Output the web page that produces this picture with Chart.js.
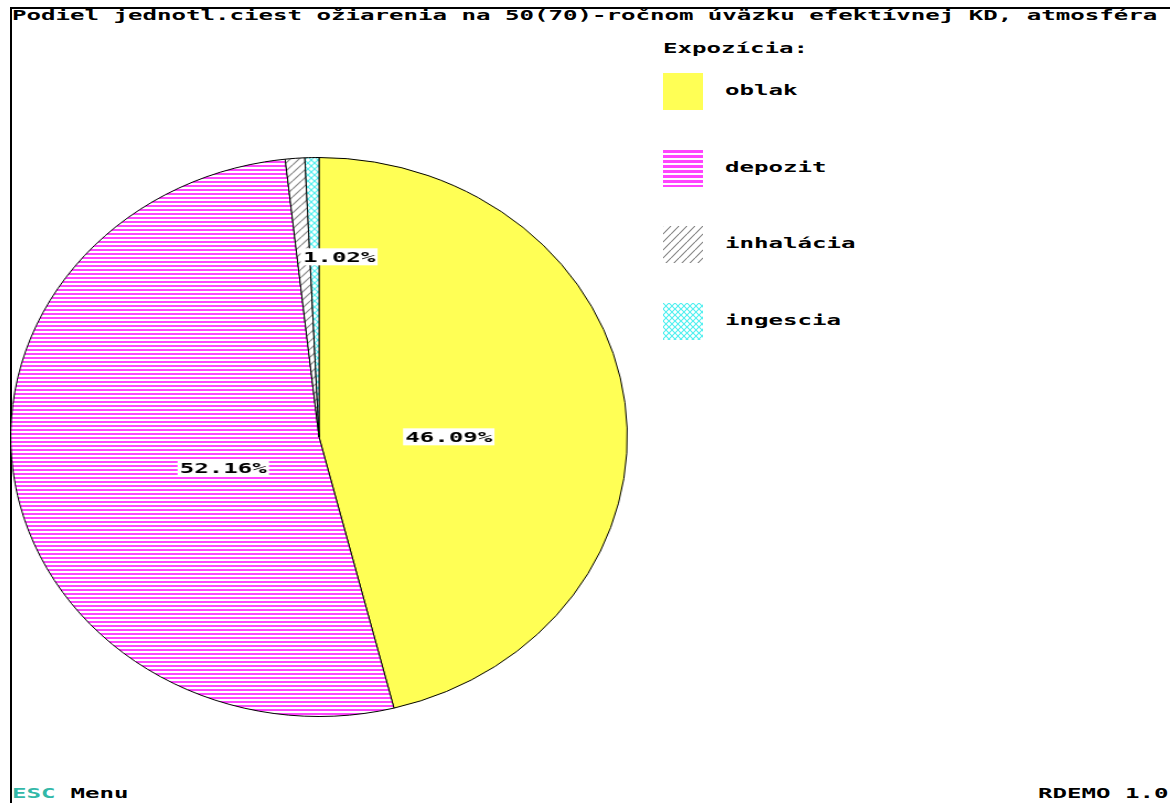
<!DOCTYPE html>
<html>
<head>
<meta charset="utf-8">
<script src="https://cdn.jsdelivr.net/npm/chart.js@4/dist/chart.umd.min.js"></script>
<style>
  html, body { margin: 0; padding: 0; width: 1170px; height: 803px; overflow: hidden; background: #fff; }
  .frame { position: absolute; left: 10px; top: 7px; width: 1200px; height: 820px;
           border-top: 2px solid #000; border-left: 2px solid #000; }
  .t { position: absolute; font-family: "DejaVu Sans Mono", monospace; font-weight: bold;
       font-size: 14px; line-height: 14px; white-space: pre; color: #000;
       transform-origin: 0 0; transform: scaleX(1.72); }
  #pieBox { position: absolute; left: 39px; top: 157px; width: 560px; height: 560px;
            transform: scaleX(1.103); transform-origin: 50% 50%; }
  .sw { position: absolute; left: 663px; }
</style>
</head>
<body>
<div class="frame"></div>
<div id="pieBox"><canvas id="pie" width="560" height="560"></canvas></div>
<div id="texts"></div>
<script>
// Exposure pathways and their share of the committed effective dose (%)
const titleText = 'Podiel jednotl.ciest ožiarenia na 50(70)-ročnom úväzku efektívnej KD, atmosféra';
const legendTitle = 'Expozícia:';
const categories = ['oblak', 'depozit', 'inhalácia', 'ingescia'];
const shares = [46.09, 52.16, 1.02, 0.73];
const footerLeftKey = 'ESC';
const footerLeftText = ' Menu';
const footerRight = 'RDEMO 1.0';

// fill styles: solid yellow, magenta rows, grey diagonal hatch, cyan cross hatch
function makeFill(i, ctx, rowStep) {
  const tile = document.createElement('canvas');
  const g = tile.getContext('2d');
  if (i === 0) return '#ffff55';
  if (i === 1) {
    const step = rowStep || 4;
    tile.width = 4; tile.height = step;
    g.fillStyle = '#fff'; g.fillRect(0, 0, 4, step);
    g.fillStyle = '#ff44ff'; g.fillRect(0, 0, 4, step - 2);
  } else if (i === 2) {
    tile.width = 8; tile.height = 8;
    g.fillStyle = '#fff'; g.fillRect(0, 0, 8, 8);
    g.strokeStyle = '#8a8a8a'; g.lineWidth = 1.2;
    for (const o of [-8, 0, 8]) {
      g.beginPath(); g.moveTo(o, 8); g.lineTo(o + 8, 0); g.stroke();
    }
  } else {
    tile.width = 6; tile.height = 6;
    g.fillStyle = '#fff'; g.fillRect(0, 0, 6, 6);
    g.strokeStyle = '#55f0f0'; g.lineWidth = 1.2;
    for (const o of [-6, 0, 6]) {
      g.beginPath(); g.moveTo(o, 6); g.lineTo(o + 6, 0); g.stroke();
      g.beginPath(); g.moveTo(o, 0); g.lineTo(o + 6, 6); g.stroke();
    }
  }
  return ctx.createPattern(tile, 'repeat');
}

const texts = document.getElementById('texts');
function addText(str, left, baseline, color) {
  const d = document.createElement('div');
  d.className = 't';
  d.textContent = str;
  d.style.left = left + 'px';
  d.style.top = (baseline - 12) + 'px';
  if (color) d.style.color = color;
  texts.appendChild(d);
  return d;
}

addText(titleText, 12, 20);
addText(legendTitle, 663, 53);

categories.forEach((name, i) => {
  const top = Math.round(73 + i * 76.5);
  const c = document.createElement('canvas');
  c.width = 40; c.height = 37;
  c.className = 'sw';
  c.style.top = top + 'px';
  const g = c.getContext('2d');
  g.fillStyle = makeFill(i, g, 5);
  g.fillRect(0, 0, 40, 37);
  document.body.appendChild(c);
  addText(name, 725, top + 22);
});

addText(footerLeftKey, 12, 798, '#33b8a8');
addText(footerLeftText, 12 + 3 * 14.5, 798);
addText(footerRight, 1038, 798);

// percentage labels drawn over the slices
const textStretch = 1.72 / 1.103;
const sliceLabels = {
  id: 'sliceLabels',
  afterDatasetsDraw(chart) {
    const ctx = chart.ctx;
    const meta = chart.getDatasetMeta(0);
    meta.data.forEach((arc, i) => {
      const v = shares[i];
      if (v < 1) return;
      const p = arc.getProps(['x', 'y', 'startAngle', 'endAngle', 'outerRadius'], true);
      const mid = (p.startAngle + p.endAngle) / 2;
      const small = (p.endAngle - p.startAngle) < 0.2;
      const f = small ? 0.67 : 0.37;
      const px = p.x + Math.cos(mid) * p.outerRadius * f + (small ? 0 : 15);
      const py = p.y + Math.sin(mid) * p.outerRadius * f;
      const text = v.toFixed(2) + '%';
      ctx.save();
      ctx.font = 'bold 14px "DejaVu Sans Mono"';
      const w = ctx.measureText(text).width * textStretch;
      const left = small ? px : px - w / 2;
      const top = small ? py : py + 6;
      ctx.fillStyle = '#fff';
      ctx.fillRect(left - 2, top - 2, w + 4, 17);
      ctx.translate(left, top);
      ctx.scale(textStretch, 1);
      ctx.textBaseline = 'top';
      ctx.fillStyle = '#000';
      ctx.fillText(text, 0, 1);
      ctx.restore();
    });
  }
};

const pieCanvas = document.getElementById('pie');
const pctx = pieCanvas.getContext('2d');
new Chart(pieCanvas, {
  type: 'pie',
  data: {
    labels: categories,
    datasets: [{
      data: shares,
      backgroundColor: categories.map((_, i) => makeFill(i, pctx)),
      borderColor: '#000',
      borderWidth: 1
    }]
  },
  options: {
    responsive: false,
    animation: false,
    devicePixelRatio: 1,
    layout: { padding: 0 },
    plugins: { legend: { display: false }, tooltip: { enabled: false } }
  },
  plugins: [sliceLabels]
});
</script>
</body>
</html>
